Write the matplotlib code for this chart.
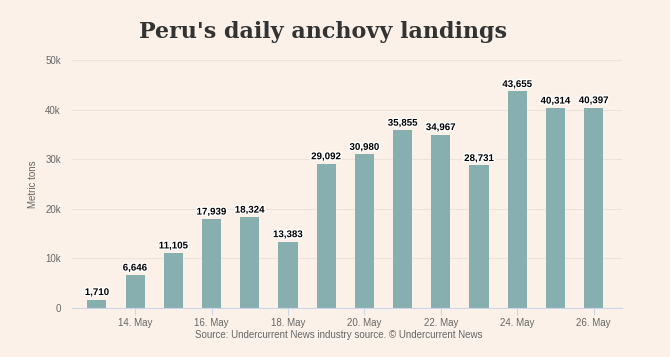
import matplotlib.pyplot as plt
import matplotlib.patheffects as pe
from matplotlib.ticker import FuncFormatter

days = ['13. May', '14. May', '15. May', '16. May', '17. May', '18. May', '19. May',
        '20. May', '21. May', '22. May', '23. May', '24. May', '25. May', '26. May']
landings = [1710, 6646, 11105, 17939, 18324, 13383, 29092,
            30980, 35855, 34967, 28731, 43655, 40314, 40397]
y_ticks = [0, 10000, 20000, 30000, 40000, 50000]

bg = '#fbf1e8'
bar_color = '#88afaf'
plt.rcParams['font.family'] = ['Liberation Sans', 'DejaVu Sans']

fig = plt.figure(figsize=(6.7, 3.57), dpi=100, facecolor=bg)
ax = fig.add_axes([72 / 670, 1 - 308 / 357, 550 / 670, 248 / 357])
ax.set_facecolor(bg)

x = list(range(len(days)))
ax.bar(x, landings, width=0.5, color=bar_color, zorder=2)

for xi, v in zip(x, landings):
    ax.text(xi, v + 500, f'{v:,}', ha='center', va='bottom', fontsize=7,
            fontweight='bold', color='black', zorder=3,
            path_effects=[pe.withStroke(linewidth=2, foreground='white')])

ax.set_xlim(-0.65, 13.74)
ax.set_ylim(0, 50000)
ax.set_yticks(y_ticks)
ax.yaxis.set_major_formatter(FuncFormatter(lambda v, p: '0' if v == 0 else f'{int(v / 1000)}k'))
ax.set_xticks(x[1::2])
ax.set_xticklabels(days[1::2])

ax.grid(axis='y', color='#ece4dc', linewidth=0.8, zorder=0)
for s in ['top', 'right', 'left']:
    ax.spines[s].set_visible(False)
ax.spines['bottom'].set_color('#ccd6eb')
ax.tick_params(axis='y', length=0, labelsize=7, labelcolor='#666666', pad=8)
ax.tick_params(axis='x', length=5, color='#ccd6eb', labelsize=7, labelcolor='#666666', pad=2)

ax.set_ylabel('Metric tons', fontsize=7, color='#666666', labelpad=5)

fig.text(323 / 670, 1 - 32 / 357, "Peru's daily anchovy landings", ha='center', va='center',
         fontsize=16, fontweight='bold', family='DejaVu Serif', color='#333333')
fig.text(339 / 670, 1 - 335 / 357, 'Source: Undercurrent News industry source. \u00a9 Undercurrent News',
         ha='center', va='center', fontsize=7, color='#666666')

fig.savefig('out.png', dpi=100, facecolor=bg)
